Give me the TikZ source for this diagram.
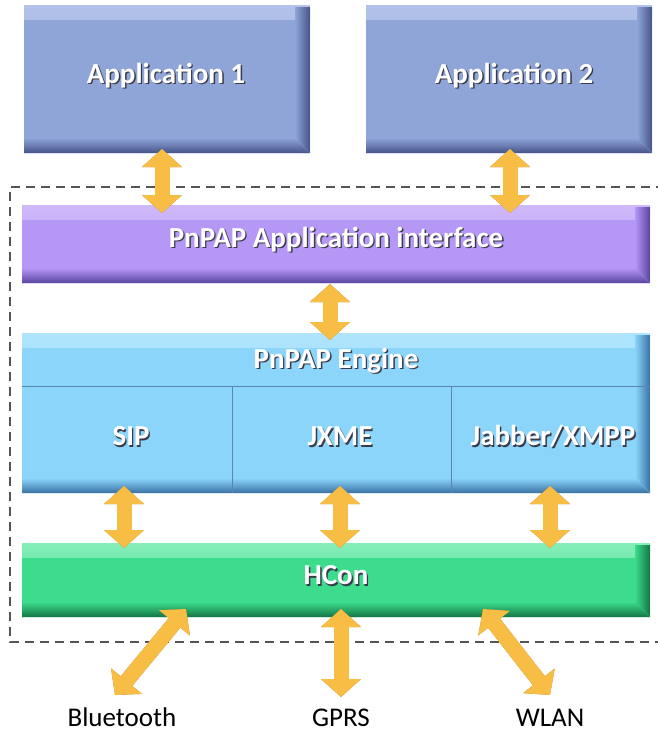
\documentclass[tikz,border=0pt]{standalone}
\usepackage{fontspec}
\setmainfont{Carlito}
\usetikzlibrary{arrows.meta,calc}

\definecolor{appfill}{HTML}{8FA5D8}
\definecolor{applight}{HTML}{B3C2EA}
\definecolor{appdark}{HTML}{46538C}
\definecolor{apifill}{HTML}{B597F5}
\definecolor{apilight}{HTML}{CFB9FA}
\definecolor{apidark}{HTML}{5A44A0}
\definecolor{engfill}{HTML}{8CD5FA}
\definecolor{englight}{HTML}{B0E4FD}
\definecolor{engdark}{HTML}{3A72A4}
\definecolor{hcfill}{HTML}{3CDC8C}
\definecolor{hclight}{HTML}{86EEB9}
\definecolor{hcdark}{HTML}{157444}
\definecolor{arrfill}{HTML}{F8BD45}
\definecolor{arrdark}{HTML}{A8761A}
\definecolor{txtshadow}{HTML}{3A3A4A}
\definecolor{frame}{HTML}{555555}

\newcommand\embossed[1]{\rlap{\kern1.4pt\raisebox{-1.4pt}{\color{txtshadow}#1}}#1}

\tikzset{
  panel/.style n args={3}{
    draw=none, fill=#1, inner sep=0pt,
    path picture={
      \fill[top color=#2, bottom color=#1]
        (path picture bounding box.north west) rectangle
        ([yshift=-14pt]path picture bounding box.north east);
      \fill[top color=#1, bottom color=#3]
        ([yshift=15pt]path picture bounding box.south west) --
        ([xshift=-15pt,yshift=15pt]path picture bounding box.south east) --
        (path picture bounding box.south east) --
        (path picture bounding box.south west) -- cycle;
      \fill[left color=#1, right color=#3]
        ([xshift=-15pt,yshift=-2pt]path picture bounding box.north east) --
        ([yshift=-2pt]path picture bounding box.north east) --
        (path picture bounding box.south east) --
        ([xshift=-15pt,yshift=15pt]path picture bounding box.south east) -- cycle;
    }
  },
  boxtext/.style={text=white, font=\bfseries\fontsize{29}{32}\selectfont},
  plaintext/.style={text=black, inner sep=1pt, anchor=base, font=\fontsize{27}{30}\selectfont},
  fat/.style={line width=15pt, draw=arrfill,
    {Triangle[length=18pt,width=39pt]}-{Triangle[length=18pt,width=39pt]}},
  fatshadow/.style={line width=15pt, draw=arrdark,
    {Triangle[length=18pt,width=39pt]}-{Triangle[length=18pt,width=39pt]},
    shift={(1.8,1.8)}},
  framebox/.style={draw=frame, line width=1.1pt, dash pattern=on 9pt off 6pt}
}

\begin{document}
\begin{tikzpicture}[x=1pt,y=-1pt]
\useasboundingbox (0,0) rectangle (658,736);

% dashed outline of the PnPAP platform
\draw[framebox] (665,187) -- (10,187) -- (10,642) -- (665,642);

% boxes
\node[panel={appfill}{applight}{appdark}, minimum width=286pt, minimum height=148pt] (app1) at (167,79) {};
\node[panel={appfill}{applight}{appdark}, minimum width=286pt, minimum height=148pt] (app2) at (509,79) {};
\node[panel={apifill}{apilight}{apidark}, minimum width=628pt, minimum height=78pt] (api) at (336,244) {};
\node[panel={engfill}{englight}{engdark}, minimum width=628pt, minimum height=160pt] (engine) at (336,413) {};
\node[panel={hcfill}{hclight}{hcdark}, minimum width=628pt, minimum height=74pt] (hcon) at (336,580) {};

% engine partitions
\draw[engdark!85, line width=1pt] (22,386) -- (650,386);
\draw[engdark!85, line width=1pt] (232,386) -- (232,493);
\draw[engdark!85, line width=1pt] (451,386) -- (451,493);

% labels inside boxes
\node[boxtext] (t1) at (166,76) {\embossed{Application 1}};
\node[boxtext] (t2) at (514,76) {\embossed{Application 2}};
\node[boxtext] (tapi) at (336,240) {\embossed{PnPAP Application interface}};
\node[boxtext] (teng) at (336,361) {\embossed{PnPAP Engine}};
\node[boxtext] (sip) at (131,437) {\embossed{SIP}};
\node[boxtext] (jxme) at (340,437) {\embossed{JXME}};
\node[boxtext] (jab) at (553,437) {\embossed{Jabber/XMPP}};
\node[boxtext] (thc) at (336,576) {\embossed{HCon}};

% network labels
\node[plaintext] (bt) at (122,726) {Bluetooth};
\node[plaintext] (gprs) at (341,726) {GPRS};
\node[plaintext] (wlan) at (550,726) {WLAN};

% arrow end points
\coordinate (a1t) at (162,149);   \coordinate (a1b) at (162,213);
\coordinate (a2t) at (510,149);   \coordinate (a2b) at (510,213);
\coordinate (ait) at (330,284);   \coordinate (aib) at (330,340);
\coordinate (s1t) at (124,486);   \coordinate (s1b) at (124,548);
\coordinate (s2t) at (340,486);   \coordinate (s2b) at (340,548);
\coordinate (s3t) at (550,486);   \coordinate (s3b) at (550,548);
\coordinate (btt) at (186,609);   \coordinate (btb) at (115,695);
\coordinate (gpt) at (341,609);   \coordinate (gpb) at (341,697);
\coordinate (wlt) at (483,609);   \coordinate (wlb) at (550,695);

% double-headed arrows with a shadow underneath
\foreach \p/\q in {a1t/a1b, a2t/a2b, ait/aib, s1t/s1b, s2t/s2b, s3t/s3b, btt/btb, gpt/gpb, wlt/wlb}{
  \draw[fatshadow] (\p) -- (\q);
  \draw[fat] (\p) -- (\q);
}
\end{tikzpicture}
\end{document}
